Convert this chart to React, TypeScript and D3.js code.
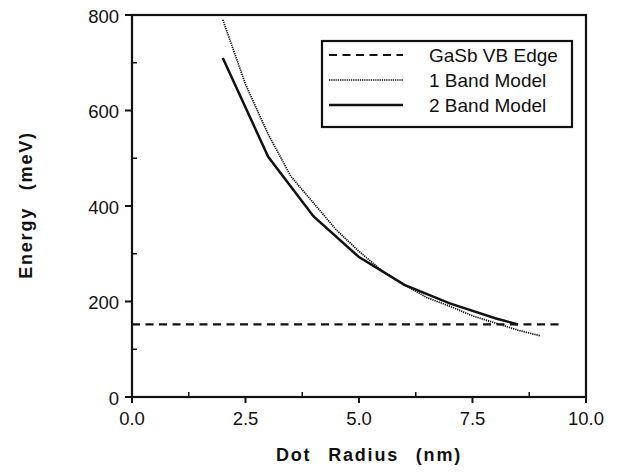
import { useEffect, useRef } from "react";
import * as d3 from "d3";

// dot radius (nm) vs energy (meV)
const oneBandRadius = [2.0, 2.5, 3.0, 3.5, 4.0, 4.5, 5.0, 5.5, 6.0, 6.5, 7.0, 7.5, 8.0, 8.5, 9.0];
const oneBandEnergy = [790, 655, 550, 462, 406, 350, 305, 265, 235, 208, 190, 170, 155, 140, 128];

const twoBandRadius = [2.0, 3.0, 4.0, 5.0, 6.0, 7.0, 8.0, 8.5];
const twoBandEnergy = [710, 503, 378, 293, 235, 196, 165, 152];

const vbEdgeRadius = [0.0, 9.5];
const vbEdgeEnergy = [152, 152];

const xMajorTicks = [0, 2.5, 5, 7.5, 10];
const xMinorTicks = [1.25, 3.75, 6.25, 8.75];
const yMajorTicks = [0, 200, 400, 600, 800];
const yMinorTicks = [100, 300, 500, 700];

const legendLabels = ["GaSb VB Edge", "1 Band Model", "2 Band Model"];

const FONT = "'Liberation Sans', Arial, Helvetica, sans-serif";

const App = () => {
  const svgRef = useRef<SVGSVGElement>(null);

  useEffect(() => {
    const width = 618;
    const height = 476;
    const left = 132;
    const right = 586;
    const top = 15;
    const bottom = 397;

    const x = d3.scaleLinear().domain([0, 10]).range([left, right]);
    const y = d3.scaleLinear().domain([0, 800]).range([bottom, top]);

    const svg = d3
      .select(svgRef.current)
      .attr("width", width)
      .attr("height", height)
      .attr("viewBox", [0, 0, width, height].join(" "));

    svg.selectAll("*").remove();

    svg.append("rect").attr("width", width).attr("height", height).attr("fill", "#fff");

    const line = d3
      .line<[number, number]>()
      .x((d) => x(d[0]))
      .y((d) => y(d[1]));

    const series = [
      { xs: vbEdgeRadius, ys: vbEdgeEnergy, width: 2.2, dash: "8,5.5" },
      { xs: oneBandRadius, ys: oneBandEnergy, width: 1.7, dash: "1.3,0.9" },
      { xs: twoBandRadius, ys: twoBandEnergy, width: 2.5, dash: null },
    ];

    series.forEach((s) => {
      const pts = s.xs.map((v, i) => [v, s.ys[i]] as [number, number]);
      svg
        .append("path")
        .attr("d", line(pts))
        .attr("fill", "none")
        .attr("stroke", "#111")
        .attr("stroke-width", s.width)
        .attr("stroke-dasharray", s.dash);
    });

    // frame
    svg
      .append("rect")
      .attr("x", left)
      .attr("y", top)
      .attr("width", right - left)
      .attr("height", bottom - top)
      .attr("fill", "none")
      .attr("stroke", "#111")
      .attr("stroke-width", 2.2);

    // bottom axis: major ticks out, minor ticks in
    const xAxis = svg.append("g").attr("transform", `translate(0,${bottom})`);
    xAxis
      .selectAll("line.major")
      .data(xMajorTicks)
      .join("line")
      .attr("x1", (d) => x(d))
      .attr("x2", (d) => x(d))
      .attr("y1", 0)
      .attr("y2", 6)
      .attr("stroke", "#111")
      .attr("stroke-width", 2);
    xAxis
      .selectAll("line.minor")
      .data(xMinorTicks)
      .join("line")
      .attr("x1", (d) => x(d))
      .attr("x2", (d) => x(d))
      .attr("y1", 0)
      .attr("y2", -5)
      .attr("stroke", "#111")
      .attr("stroke-width", 1.5);
    xAxis
      .selectAll("text")
      .data(xMajorTicks)
      .join("text")
      .attr("x", (d) => x(d))
      .attr("y", 28)
      .attr("text-anchor", "middle")
      .attr("font-family", FONT)
      .attr("font-size", 18.5)
      .attr("fill", "#111")
      .text((d) => d.toFixed(1));

    // left axis
    const yAxis = svg.append("g").attr("transform", `translate(${left},0)`);
    yAxis
      .selectAll("line.major")
      .data(yMajorTicks)
      .join("line")
      .attr("x1", 0)
      .attr("x2", -7)
      .attr("y1", (d) => y(d))
      .attr("y2", (d) => y(d))
      .attr("stroke", "#111")
      .attr("stroke-width", 2);
    yAxis
      .selectAll("line.minor")
      .data(yMinorTicks)
      .join("line")
      .attr("x1", 0)
      .attr("x2", 5)
      .attr("y1", (d) => y(d))
      .attr("y2", (d) => y(d))
      .attr("stroke", "#111")
      .attr("stroke-width", 1.5);
    yAxis
      .selectAll("text")
      .data(yMajorTicks)
      .join("text")
      .attr("x", -13)
      .attr("y", (d) => y(d) + 1)
      .attr("dy", "0.36em")
      .attr("text-anchor", "end")
      .attr("font-family", FONT)
      .attr("font-size", 18.5)
      .attr("fill", "#111")
      .text((d) => String(d));

    // axis titles
    svg
      .append("text")
      .attr("x", 369)
      .attr("y", 461)
      .attr("text-anchor", "middle")
      .attr("font-family", FONT)
      .attr("font-weight", "bold")
      .attr("font-size", 18)
      .attr("letter-spacing", 1.8)
      .attr("word-spacing", 10)
      .attr("fill", "#111")
      .text("Dot Radius (nm)");

    svg
      .append("text")
      .attr("transform", `translate(32,205) rotate(-90)`)
      .attr("text-anchor", "middle")
      .attr("font-family", FONT)
      .attr("font-weight", "bold")
      .attr("font-size", 18)
      .attr("letter-spacing", 1.8)
      .attr("word-spacing", 10)
      .attr("fill", "#111")
      .text("Energy (meV)");

    // legend
    const lg = svg.append("g");
    lg.append("rect")
      .attr("x", 322)
      .attr("y", 41)
      .attr("width", 250)
      .attr("height", 86)
      .attr("fill", "#fff")
      .attr("stroke", "#111")
      .attr("stroke-width", 2.2);

    const rowY = [55, 80, 105];
    legendLabels.forEach((label, i) => {
      lg.append("line")
        .attr("x1", 329)
        .attr("x2", 403)
        .attr("y1", rowY[i])
        .attr("y2", rowY[i])
        .attr("stroke", "#111")
        .attr("stroke-width", series[i].width)
        .attr("stroke-dasharray", series[i].dash);
      lg.append("text")
        .attr("x", 429)
        .attr("y", rowY[i])
        .attr("dy", "0.36em")
        .attr("font-family", FONT)
        .attr("font-size", 19)
        .attr("fill", "#111")
        .text(label);
    });
  }, []);

  return (
    <div style={{ position: "absolute", left: 0, top: 0 }}>
      <svg ref={svgRef} style={{ display: "block" }}></svg>
    </div>
  );
};

export default App;
